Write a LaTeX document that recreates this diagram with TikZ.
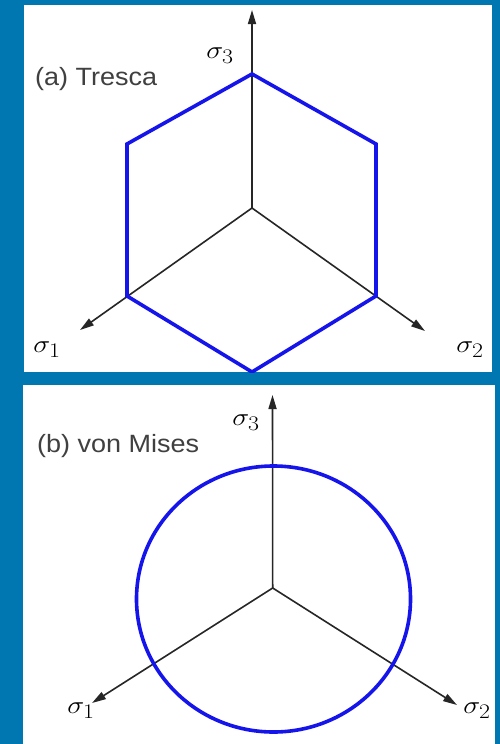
\documentclass[tikz,border=0pt]{standalone}
\usepackage{fontspec}
\setmainfont{Liberation Sans}
\usetikzlibrary{arrows.meta}
\definecolor{fundo}{RGB}{0,119,176}
\definecolor{azul}{RGB}{20,20,235}
\definecolor{texto}{RGB}{64,64,64}

\begin{document}
\begin{tikzpicture}[
        x=1pt, y=-1pt,
        painel/.style={fill=white},
        eixo/.style={-{Triangle[length=14pt, width=8pt]}, line width=1.6pt, draw=black!85},
        superficie/.style={draw=azul, line width=3.6pt, line join=miter},
        titulo/.style={font=\fontsize{25}{30}\selectfont, text=texto, anchor=base west, inner sep=0pt, xscale=1.08},
        rotulo/.style={font=\fontsize{28}{32}\selectfont, inner sep=0pt, xscale=1.15}
    ]
        \fill[fundo] (0,0) rectangle (500,744);
        \useasboundingbox (0,0) rectangle (500,744);

        % (a) Tresca
        \fill[painel] (24,5) rectangle (492,372);
        \coordinate (oA) at (252,208);
        \coordinate (a3) at (252,10);
        \coordinate (a1) at (80,330);
        \coordinate (a2) at (425,331);
        \draw[eixo] (oA) -- (a3);
        \draw[eixo] (oA) -- (a1);
        \draw[eixo] (oA) -- (a2);
        \begin{scope}
            \clip (24,5) rectangle (492,372);
            \draw[superficie] (252,74) -- (376,144) -- (376,296) -- (252,372)
                -- (127,296) -- (127,144) -- cycle;
        \end{scope}
        \node[titulo] (tresca) at (35,85.5) {(a) Tresca};
        \node[rotulo] (sA3) at (220,56) {$\sigma_3$};
        \node[rotulo] (sA1) at (47,350) {$\sigma_1$};
        \node[rotulo] (sA2) at (470,350) {$\sigma_2$};

        % (b) von Mises
        \fill[painel] (23,385) rectangle (495,744);
        \coordinate (oB) at (272.7,588);
        \coordinate (b3) at (272.5,395);
        \coordinate (b1) at (92,703);
        \coordinate (b2) at (457,705);
        \draw[eixo] (oB) -- (b3);
        \draw[eixo] (oB) -- (b1);
        \draw[eixo] (oB) -- (b2);
        \draw[superficie] (273.5,599) ellipse [x radius=137, y radius=133];
        \node[titulo] (mises) at (37,452.5) {(b) von Mises};
        \node[rotulo] (sB3) at (246,423) {$\sigma_3$};
        \node[rotulo] (sB1) at (81,711) {$\sigma_1$};
        \node[rotulo] (sB2) at (477,711) {$\sigma_2$};
    \end{tikzpicture}
\end{document}
